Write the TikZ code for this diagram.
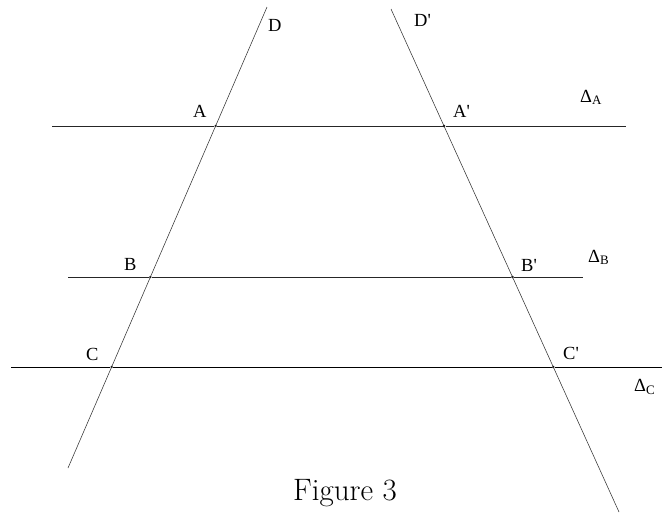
\documentclass[tikz,border=0pt]{standalone}
\usepackage{fontspec}
\newfontfamily\labelfont{Liberation Serif}
\usepackage{tikz}
\usetikzlibrary{positioning, calc}

\begin{document}
\begin{tikzpicture}[
    x=1pt, y=-1pt,
    point/.style={
        circle, fill=black, inner sep=0pt, minimum size=2.6pt
    },
    ptlabel/.style={
        font=\labelfont\fontsize{18.5}{22}\selectfont,
        inner sep=0pt, anchor=base west
    },
    parallel/.style={line width=0.9pt, draw=black!85},
    secant/.style={line width=0.55pt, draw=black!80}
]
\useasboundingbox (0,0) rectangle (662,512);

% Secant lines D and D'
\coordinate (Dtop)  at (267, 7);
\coordinate (Dbot)  at (68, 468);
\coordinate (Eptop) at (391, 9);
\coordinate (Epbot) at (619, 512);

% Ends of the parallels
\coordinate (aL) at (52, 126);
\coordinate (aR) at (626, 126);
\coordinate (bL) at (68, 277);
\coordinate (bR) at (583, 277);
\coordinate (cL) at (11, 367);
\coordinate (cR) at (662, 367);

% Intersection points
\node[point] (A)  at (215.6, 126) {};
\node[point] (B)  at (150.4, 277) {};
\node[point] (C)  at (111.6, 367) {};
\node[point] (Ap) at (444.0, 126) {};
\node[point] (Bp) at (512.5, 277) {};
\node[point] (Cp) at (553.3, 367) {};

% Parallels
\draw[parallel] (aL) -- (A) -- (Ap) -- (aR);
\draw[parallel] (bL) -- (B) -- (Bp) -- (bR);
\draw[parallel, draw=black] (cL) -- (C) -- (Cp) -- (cR);

% Secants
\draw[secant] (Dtop) -- (A.center) -- (B.center) -- (C.center) -- (Dbot);
\draw[secant] (Eptop) -- (Ap.center) -- (Bp.center) -- (Cp.center) -- (Epbot);

% Labels
\node[ptlabel] (lD)  at (268, 31.5)  {D};
\node[ptlabel] (lDp) at (414, 26.5)  {D'};
\node[ptlabel] (lA)  at (193, 117)   {A};
\node[ptlabel] (lAp) at (453, 117)   {A'};
\node[ptlabel] (lB)  at (124, 270)   {B};
\node[ptlabel] (lBp) at (521, 271)   {B'};
\node[ptlabel] (lC)  at (86, 360.5)  {C};
\node[ptlabel] (lCp) at (563, 359)   {C'};
\node[ptlabel] (lDA) at (580, 102)   {Δ\textsubscript{A}};
\node[ptlabel] (lDB) at (588, 262)   {Δ\textsubscript{B}};
\node[ptlabel] (lDC) at (634, 391.5) {Δ\textsubscript{C}};

% Caption
\node[font=\fontsize{31}{36}\selectfont, inner sep=0pt, anchor=base west] (cap) at (293, 500) {Figure 3};

\end{tikzpicture}
\end{document}
